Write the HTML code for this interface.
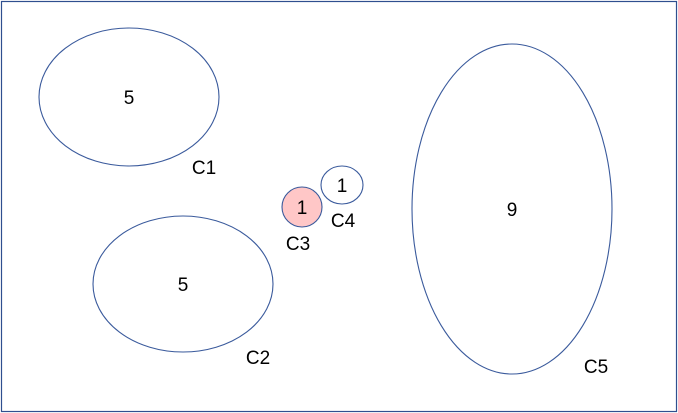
<!DOCTYPE html>
<html><head><meta charset="utf-8"><style>
html,body{margin:0;padding:0;background:#fff;}
svg{display:block;font-family:"Liberation Sans",sans-serif;}
</style></head><body>
<svg id="chart" width="678" height="413" viewBox="0 0 678 413">
<rect x="1.5" y="1.5" width="675" height="410" fill="#fff" stroke="#2f4f8f" stroke-width="1.2"/>
</svg>
<script>
const clusterNames = ["C1","C2","C3","C4","C5"];
const clusterValues = [5,5,1,1,9];
const centerX = [129,183,302,342,512];
const centerY = [97,284,207,185,209];
const radiusX = [90,90,20,21,100];
const radiusY = [69,68,20,19,165];
const labelX = [204,258,298,343,596];
const labelY = [167,357,243,220,366];
const fills = ["none","none","#ffc7c7","none","none"];
const svg = document.getElementById('chart');
const NS = "http://www.w3.org/2000/svg";
for (let i = 0; i < clusterNames.length; i++) {
  const e = document.createElementNS(NS,'ellipse');
  e.setAttribute('cx', centerX[i]); e.setAttribute('cy', centerY[i]);
  e.setAttribute('rx', radiusX[i]); e.setAttribute('ry', radiusY[i]);
  e.setAttribute('fill', fills[i]); e.setAttribute('stroke', '#3a5a9c'); e.setAttribute('stroke-width', '1.1');
  
  
  svg.appendChild(e);
  const v = document.createElementNS(NS,'text');
  v.setAttribute('x', centerX[i]); v.setAttribute('y', centerY[i] + 7);
  v.setAttribute('text-anchor', 'middle'); v.setAttribute('font-size', '19');
  v.textContent = clusterValues[i];
  
  
  svg.appendChild(v);
  const l = document.createElementNS(NS,'text');
  l.setAttribute('x', labelX[i]); l.setAttribute('y', labelY[i] + 7);
  l.setAttribute('text-anchor', 'middle'); l.setAttribute('font-size', '19');
  l.textContent = clusterNames[i];
  
  
  svg.appendChild(l);
}
</script>
</body></html>
